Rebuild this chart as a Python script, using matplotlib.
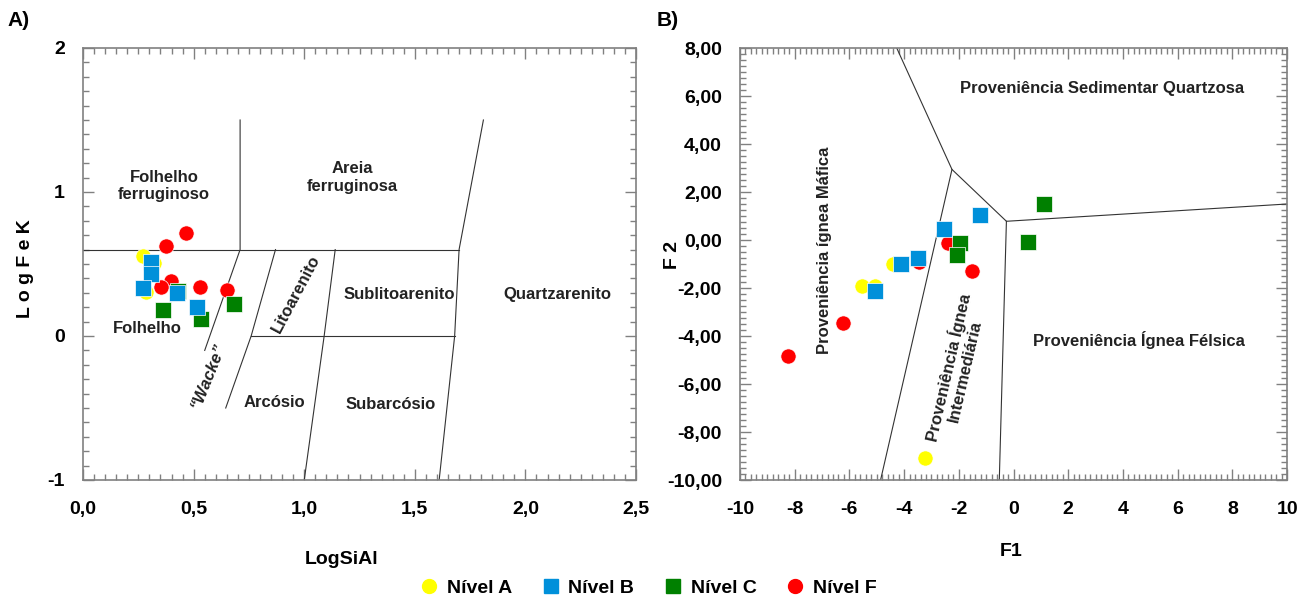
import numpy as np
import matplotlib
matplotlib.use("Agg")
import matplotlib.pyplot as plt
from matplotlib.lines import Line2D
from matplotlib.ticker import MultipleLocator, FuncFormatter

plt.rcParams['font.family'] = ['Liberation Sans', 'DejaVu Sans']
plt.rcParams['font.weight'] = 'bold'

# ---- Panel A data (LogSiAl vs LogFeK) ----
a_nivel_a_x = [0.273, 0.320, 0.283]
a_nivel_a_y = [0.556, 0.508, 0.309]
a_nivel_b_x = [0.305, 0.305, 0.269, 0.424, 0.514]
a_nivel_b_y = [0.516, 0.430, 0.333, 0.300, 0.200]
a_nivel_c_x = [0.428, 0.362, 0.535, 0.682]
a_nivel_c_y = [0.310, 0.180, 0.118, 0.220]
a_nivel_f_x = [0.465, 0.377, 0.396, 0.352, 0.529, 0.652]
a_nivel_f_y = [0.718, 0.624, 0.382, 0.341, 0.339, 0.320]

# field boundaries, panel A
a_bounds = [
    [(0.0, 0.6), (1.70, 0.6)],
    [(0.71, 1.5), (0.71, 0.6), (0.55, -0.1)],
    [(0.87, 0.6), (0.76, 0.0), (0.645, -0.5)],
    [(0.76, 0.0), (1.68, 0.0)],
    [(1.14, 0.6), (1.09, 0.0), (1.0, -1.0)],
    [(1.81, 1.5), (1.70, 0.6), (1.68, 0.0), (1.61, -1.0)],
]
a_labels = [
    ("Folhelho\nferruginoso", 0.367, 1.04, 0),
    ("Areia\nferruginosa", 1.217, 1.10, 0),
    ("Litoarenito", 0.965, 0.29, 62),
    ("Sublitoarenito", 1.428, 0.29, 0),
    ("Quartzarenito", 2.144, 0.29, 0),
    ("Folhelho", 0.292, 0.054, 0),
    ("Arcósio", 0.867, -0.465, 0),
    ("Subarcósio", 1.389, -0.478, 0),
]

# ---- Panel B data (F1 vs F2) ----
b_nivel_a_x = [-5.54, -5.06, -4.40, -3.22]
b_nivel_a_y = [-1.93, -1.93, -1.02, -9.08]
b_nivel_b_x = [-5.06, -4.12, -3.50, -2.55, -1.22]
b_nivel_b_y = [-2.11, -1.02, -0.76, 0.46, 1.06]
b_nivel_c_x = [-1.95, -2.06, 1.13, 0.52]
b_nivel_c_y = [-0.13, -0.62, 1.50, -0.08]
b_nivel_f_x = [-8.26, -6.25, -3.45, -2.40, -1.51]
b_nivel_f_y = [-4.83, -3.47, -0.90, -0.13, -1.30]

b_bounds = [
    [(-4.27, 8.0), (-2.25, 2.94), (-0.26, 0.78), (10.0, 1.50)],
    [(-2.25, 2.94), (-4.86, -10.0)],
    [(-0.26, 0.78), (-0.52, -10.0)],
]
b_labels = [
    ("Proveniência Sedimentar Quartzosa", 3.25, 6.3, 0),
    ("Proveniência ígnea Máfica", -6.9, -0.45, 90),
    ("Proveniência Ígnea\nIntermediária", -2.1, -5.4, 77),
    ("Proveniência Ígnea Félsica", 4.6, -4.15, 0),
]

YELLOW = '#ffff00'
BLUE = '#0090da'
GREEN = '#008000'
RED = '#ff0000'
SPINE = '#808080'
LINE = '#333333'
MS = 120

fig = plt.figure(figsize=(13.06, 6.0), dpi=100)
ax1 = fig.add_axes([0.0636, 0.20, 0.4234, 0.72])
ax2 = fig.add_axes([0.5666, 0.20, 0.4189, 0.72])


def style_axes(ax):
    for s in ax.spines.values():
        s.set_color(SPINE)
        s.set_linewidth(1.2)
    ax.tick_params(which='both', direction='in', top=True, right=True,
                   color=SPINE, width=1.0)
    ax.tick_params(which='major', length=8, labelsize=14)
    ax.tick_params(axis='x', which='major', pad=15)
    ax.tick_params(axis='y', which='major', pad=13)
    ax.tick_params(which='minor', length=4)
    for lab in ax.get_xticklabels() + ax.get_yticklabels():
        lab.set_fontweight('bold')


def scatter_groups(ax, xa, ya, xb, yb, xc, yc, xf, yf):
    ax.scatter(xa, ya, s=MS, marker='o', color=YELLOW, edgecolors='white', linewidths=0.5, zorder=3)
    ax.scatter(xf, yf, s=MS, marker='o', color=RED, edgecolors='white', linewidths=0.5, zorder=4)
    ax.scatter(xc, yc, s=MS, marker='s', color=GREEN, edgecolors='white', linewidths=0.5, zorder=5)
    ax.scatter(xb, yb, s=MS, marker='s', color=BLUE, edgecolors='white', linewidths=0.5, zorder=6)


# ---- Panel A ----
for seg in a_bounds:
    xs, ys = zip(*seg)
    ax1.plot(xs, ys, color=LINE, lw=0.8, zorder=2)
for txt, x, y, rot in a_labels:
    ax1.text(x, y, txt, ha='center', va='center', rotation=rot,
             fontsize=12, fontweight='bold', color='#222222')
ax1.text(0.565, -0.28, "“Wacke”", ha='center', va='center', rotation=68,
         fontsize=12, fontweight='bold', style='italic', color='#222222')
scatter_groups(ax1, a_nivel_a_x, a_nivel_a_y, a_nivel_b_x, a_nivel_b_y,
               a_nivel_c_x, a_nivel_c_y, a_nivel_f_x, a_nivel_f_y)
ax1.set_xlim(0, 2.5)
ax1.set_ylim(-1, 2)
ax1.xaxis.set_major_locator(MultipleLocator(0.5))
ax1.xaxis.set_minor_locator(MultipleLocator(0.05))
ax1.yaxis.set_major_locator(MultipleLocator(1))
ax1.yaxis.set_minor_locator(MultipleLocator(0.1))
ax1.xaxis.set_major_formatter(FuncFormatter(lambda v, p: f"{v:.1f}".replace('.', ',')))
ax1.yaxis.set_major_formatter(FuncFormatter(lambda v, p: f"{v:.0f}"))
style_axes(ax1)
ax1.set_xlabel("LogSiAl", fontsize=14, fontweight='bold', va='center')
ax1.xaxis.set_label_coords(0.468, -0.183)
ax1.set_ylabel("L o g F e K", fontsize=14, fontweight='bold', va='center')
ax1.yaxis.set_label_coords(-0.105, 0.49)

# ---- Panel B ----
for seg in b_bounds:
    xs, ys = zip(*seg)
    ax2.plot(xs, ys, color=LINE, lw=0.8, zorder=2)
for txt, x, y, rot in b_labels:
    ax2.text(x, y, txt, ha='center', va='center', rotation=rot,
             fontsize=12, fontweight='bold', color='#222222', linespacing=1.1)
scatter_groups(ax2, b_nivel_a_x, b_nivel_a_y, b_nivel_b_x, b_nivel_b_y,
               b_nivel_c_x, b_nivel_c_y, b_nivel_f_x, b_nivel_f_y)
ax2.set_xlim(-10, 10)
ax2.set_ylim(-10, 8)
ax2.xaxis.set_major_locator(MultipleLocator(2))
ax2.xaxis.set_minor_locator(MultipleLocator(0.2))
ax2.yaxis.set_major_locator(MultipleLocator(2))
ax2.yaxis.set_minor_locator(MultipleLocator(0.25))
ax2.xaxis.set_major_formatter(FuncFormatter(lambda v, p: f"{v:.0f}"))
ax2.yaxis.set_major_formatter(FuncFormatter(lambda v, p: f"{v:.2f}".replace('.', ',')))
style_axes(ax2)
ax2.set_xlabel("F1", fontsize=14, fontweight='bold', va='center')
ax2.xaxis.set_label_coords(0.496, -0.165)
ax2.set_ylabel("F 2", fontsize=14, fontweight='bold', va='center')
ax2.yaxis.set_label_coords(-0.124, 0.52)

fig.text(0.006, 0.965, "A)", fontsize=15, fontweight='bold', va='center')
fig.text(0.503, 0.965, "B)", fontsize=15, fontweight='bold', va='center')

handles = [
    Line2D([], [], ls='', marker='o', ms=10, color=YELLOW, label='Nível A'),
    Line2D([], [], ls='', marker='s', ms=10, color=BLUE, label='Nível B'),
    Line2D([], [], ls='', marker='s', ms=10, color=GREEN, label='Nível C'),
    Line2D([], [], ls='', marker='o', ms=10, color=RED, label='Nível F'),
]
fig.legend(handles=handles, loc='center', bbox_to_anchor=(0.4955, 0.02), ncol=4,
           frameon=False, prop={'size': 14, 'weight': 'bold'},
           handletextpad=0.3, columnspacing=1.4, handlelength=1.2)

fig.savefig("out.png", dpi=100)
